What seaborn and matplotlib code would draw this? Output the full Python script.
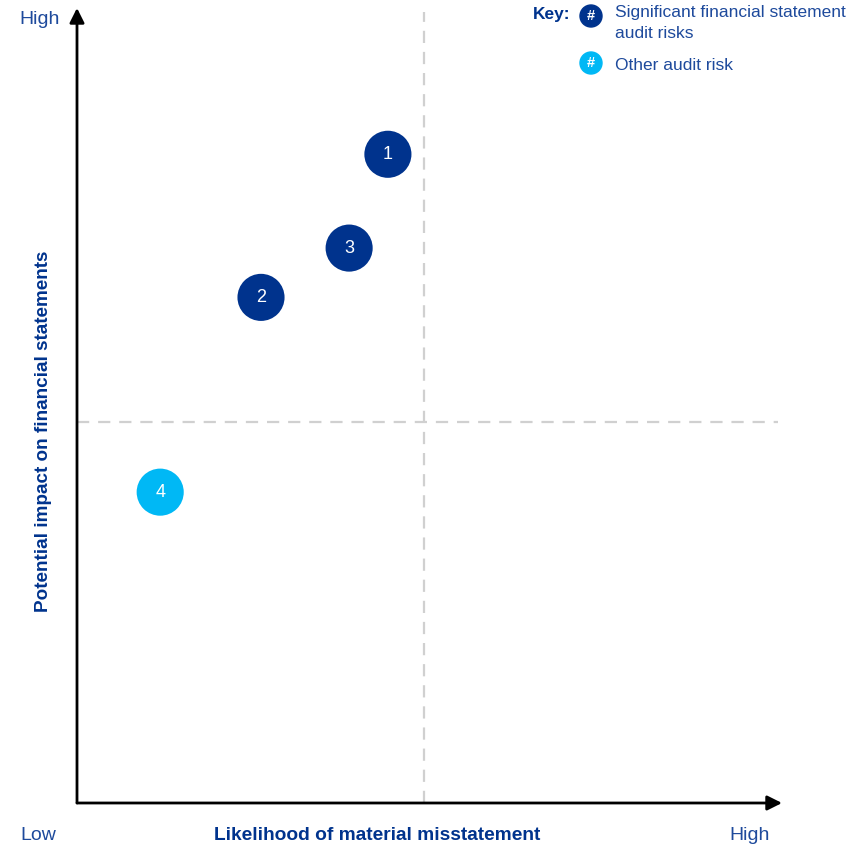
import matplotlib
matplotlib.use("Agg")
import matplotlib.pyplot as plt
import seaborn as sns
import pandas as pd

sns.set_theme(style="white")
plt.rcParams['font.family'] = ['Liberation Sans', 'DejaVu Sans']

# Data (0-100 scale on each axis)
risk_ids = ["1", "2", "3", "4"]
likelihood = [44.1, 26.1, 38.6, 11.8]
impact = [81.6, 63.6, 69.8, 39.1]
risk_type = ["Significant", "Significant", "Significant", "Other"]
x_threshold = 49.2
y_threshold = 47.9
x_tick_labels = ["Low", "High"]
y_tick_labels = ["High"]

NAVY = "#00338D"
CYAN = "#00B8F5"
TXT = "#1E4A9C"

df = pd.DataFrame({"id": risk_ids, "x": likelihood, "y": impact, "type": risk_type})

W, H = 864, 846
fig = plt.figure(figsize=(W / 100, H / 100), dpi=100)
L, R, B, T = 77, 782, 803, 8
ax = fig.add_axes([L / W, (H - B) / H, (R - L) / W, (B - T) / H])
ax.set_xlim(0, 100)
ax.set_ylim(0, 100)
for s in ax.spines.values():
    s.set_visible(False)
ax.set_xticks([])
ax.set_yticks([])

# quadrant lines
ax.plot([x_threshold, x_threshold], [0, 99.5], color="#D0D0D0", lw=1.6, ls=(0, (5.5, 4)), zorder=1)
ax.plot([0, 99.5], [y_threshold, y_threshold], color="#D0D0D0", lw=1.6, ls=(0, (5.5, 4)), zorder=1)

# axes arrows
ax.annotate("", xy=(1.0, 0), xytext=(0, 0), xycoords="axes fraction",
            arrowprops=dict(arrowstyle="-|>", lw=2, color="black", mutation_scale=22,
                            shrinkA=0, shrinkB=0), annotation_clip=False)
ax.annotate("", xy=(0, 1.0), xytext=(0, 0), xycoords="axes fraction",
            arrowprops=dict(arrowstyle="-|>", lw=2, color="black", mutation_scale=22,
                            shrinkA=0, shrinkB=0), annotation_clip=False)

sns.scatterplot(data=df, x="x", y="y", hue="type",
                palette={"Significant": NAVY, "Other": CYAN},
                s=1150, edgecolor="none", legend=False, ax=ax, zorder=3)
for _, r in df.iterrows():
    ax.text(r["x"], r["y"], r["id"], color="white", fontsize=13,
            ha="center", va="center", zorder=4)
ax.set_xlabel("")
ax.set_ylabel("")

def ftext(px, py, s, **kw):
    fig.text(px / W, 1 - py / H, s, **kw)

ftext(38, 835, x_tick_labels[0], color=TXT, fontsize=14, ha="center", va="center")
ftext(750, 835, x_tick_labels[1], color=TXT, fontsize=14, ha="center", va="center")
ftext(40, 19, y_tick_labels[0], color=TXT, fontsize=14, ha="center", va="center")
ftext(377, 835, "Likelihood of material misstatement", color=NAVY, fontsize=13.8,
      fontweight="bold", ha="center", va="center")
ftext(44, 431, "Potential impact on financial statements", color=NAVY, fontsize=13.6,
      fontweight="bold", ha="center", va="center", rotation=90)

# key
ftext(552, 15, "Key:", color=NAVY, fontsize=12.5, fontweight="bold", ha="center", va="center")
for cy, col in [(16, NAVY), (63, CYAN)]:
    fig.patches.append(matplotlib.patches.Ellipse((591 / W, 1 - cy / H), 22 / W, 22 / H,
                                                  transform=fig.transFigure, color=col))
    ftext(591, cy, "#", color="white", fontsize=10.5, fontweight="bold", ha="center", va="center")
ftext(615, 13, "Significant financial statement", color=TXT, fontsize=12.5, ha="left", va="center")
ftext(615, 33, "audit risks", color=TXT, fontsize=12.5, ha="left", va="center")
ftext(615, 65, "Other audit risk", color=TXT, fontsize=12.5, ha="left", va="center")

fig.savefig("out.png", dpi=100)
